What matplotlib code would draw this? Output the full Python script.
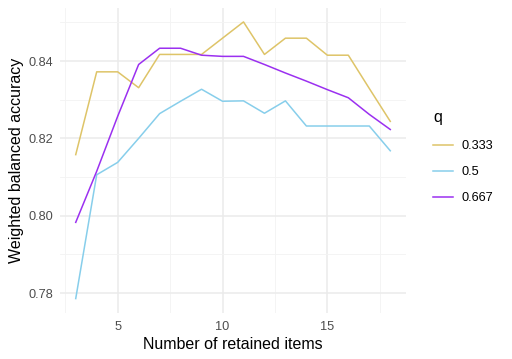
import matplotlib
matplotlib.use("Agg")
import matplotlib.pyplot as plt

items = [3, 4, 5, 6, 7, 8, 9, 10, 11, 12, 13, 14, 15, 16, 17, 18]
q_labels = ["0.333", "0.5", "0.667"]
acc_0333 = [0.8158, 0.8372, 0.8372, 0.8331, 0.8417, 0.8417, 0.8417, 0.8459, 0.8501,
            0.8417, 0.8459, 0.8459, 0.8415, 0.8415, 0.8329, 0.8244]
acc_05 = [0.7786, 0.8106, 0.8138, 0.8200, 0.8264, 0.8296, 0.8327, 0.8296, 0.8297,
          0.8265, 0.8297, 0.8232, 0.8232, 0.8232, 0.8232, 0.8168]
acc_0667 = [0.7983, 0.8115, 0.8257, 0.8391, 0.8433, 0.8433, 0.8415, 0.8412, 0.8412,
            0.8391, 0.8369, 0.8348, 0.8326, 0.8305, 0.8262, 0.8223]
colors = ["#DEC468", "#87CEEB", "#9B30F0"]

plt.rcParams['font.family'] = ['Liberation Sans', 'DejaVu Sans']
fig = plt.figure(figsize=(5.12, 3.59), dpi=100)
ax = fig.add_axes([60/512, 1 - 312.5/359, (406-60)/512, (312.5-8)/359])

for vals, lab, c in zip([acc_0333, acc_05, acc_0667], q_labels, colors):
    ax.plot(items, vals, color=c, lw=1.1, label=lab)

ax.set_xlim(2.25, 18.75)
ax.set_ylim(0.7750, 0.8537)
ax.set_xticks([5, 10, 15])
ax.set_xticks([2.5, 7.5, 12.5, 17.5], minor=True)
ax.set_yticks([0.78, 0.80, 0.82, 0.84])
ax.set_yticklabels(["0.78", "0.80", "0.82", "0.84"])
ax.set_yticks([0.79, 0.81, 0.83, 0.85], minor=True)
ax.grid(True, which='major', color='#EBEBEB', lw=1.1)
ax.grid(True, which='minor', color='#F3F3F3', lw=0.6)
for s in ax.spines.values():
    s.set_visible(False)
ax.tick_params(which='both', length=0, labelsize=9.2, labelcolor='#4D4D4D')
ax.tick_params(axis='y', pad=5)
ax.tick_params(axis='x', pad=6)
ax.set_xlabel("Number of retained items", fontsize=11.5, color='black', labelpad=3)
ax.set_ylabel("Weighted balanced accuracy", fontsize=11.5, color='black', labelpad=3)
ax.set_axisbelow(True)

leg = fig.legend(loc='upper left', bbox_to_anchor=(433/512, 1 - 110/359), frameon=False,
                 title="q", fontsize=9.2, title_fontsize=11.5, handlelength=1.6,
                 labelspacing=1.1, handletextpad=0.65, alignment='left',
                 borderaxespad=0, borderpad=0)
leg._legend_box.sep = 11
fig.savefig("out.png", dpi=100)
